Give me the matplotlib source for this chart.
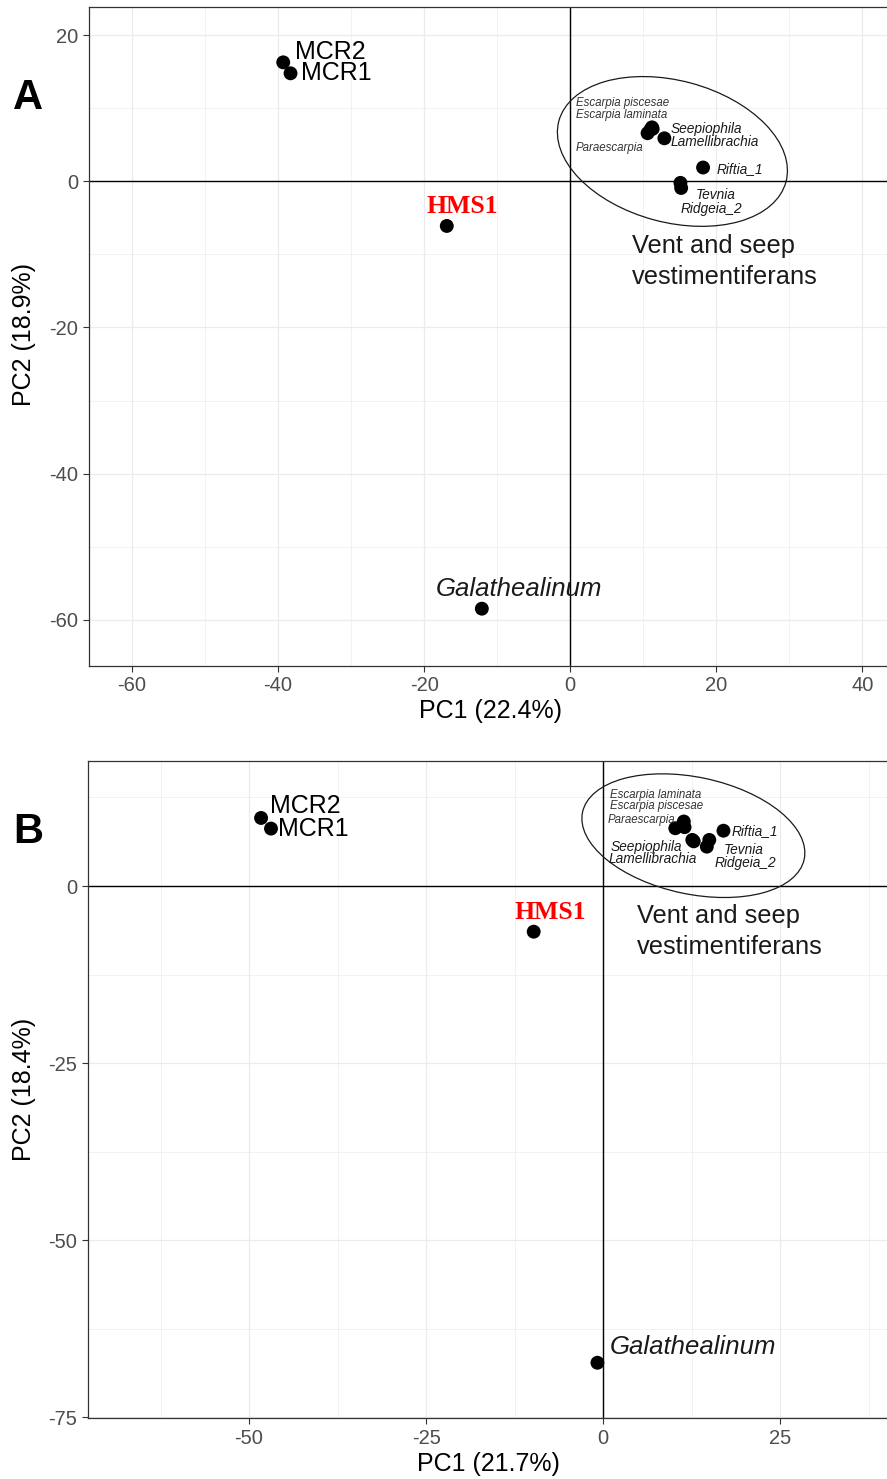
import numpy as np
import matplotlib.pyplot as plt
from matplotlib.patches import Ellipse

plt.rcParams['font.family'] = ['Liberation Sans', 'DejaVu Sans']
plt.rcParams['axes.unicode_minus'] = False

# ---- panel A scores (PC1 22.4%, PC2 18.9%)
a_names = ["MCR2", "MCR1", "HMS1", "Galathealinum",
           "Escarpia piscesae", "Escarpia laminata", "Paraescarpia", "Seepiophila",
           "Lamellibrachia", "Riftia_1", "Tevnia", "Ridgeia_2"]
a_pc1 = [-39.3, -38.3, -16.9, -12.1, 11.2, 11.0, 10.6, 11.3, 12.9, 18.2, 15.1, 15.2]
a_pc2 = [16.3, 14.8, -6.1, -58.5, 7.4, 7.1, 6.6, 7.2, 5.9, 1.9, -0.2, -0.9]
# label anchors (left / baseline)
a_lab_x = [-37.7, -36.8, -14.8, -18.4, 0.8, 0.8, 0.8, 13.8, 13.8, 20.0, 17.2, 15.1]
a_lab_y = [16.8, 13.9, -4.3, -56.7, 10.3, 8.7, 4.2, 6.7, 4.9, 1.15, -2.4, -4.3]

# ---- panel B scores (PC1 21.7%, PC2 18.4%)
b_names = ["MCR2", "MCR1", "HMS1", "Galathealinum",
           "Escarpia laminata", "Escarpia piscesae", "Paraescarpia", "Seepiophila",
           "Lamellibrachia", "Riftia_1", "Tevnia", "Ridgeia_2"]
b_pc1 = [-48.3, -46.9, -9.8, -0.8, 11.4, 11.5, 10.2, 12.6, 12.8, 17.0, 15.0, 14.65]
b_pc2 = [9.6, 8.1, -6.45, -67.3, 9.1, 8.3, 8.15, 6.5, 6.3, 7.8, 6.5, 5.55]
b_lab_x = [-47.1, -45.9, -7.5, 0.95, 1.0, 1.0, 0.66, 1.0, 0.75, 18.2, 17.0, 15.7]
b_lab_y = [10.3, 7.0, -4.6, -66.0, 12.5, 10.9, 8.9, 5.0, 3.2, 7.2, 4.5, 2.7]

small = {"Escarpia piscesae", "Escarpia laminata", "Paraescarpia"}
species = small | {"Seepiophila", "Lamellibrachia", "Riftia_1", "Tevnia", "Ridgeia_2", "Galathealinum"}

W, H = 887, 1479
fig = plt.figure(figsize=(W / 100 + 0.001, H / 100 + 0.001), dpi=100)


def make_panel(box, xlim, ylim, xmaj, xmin, ymaj, ymin):
    l, t, r, b = box
    ax = fig.add_axes([l / W, 1 - b / H, (r - l) / W, (b - t) / H])
    ax.set_xlim(xlim)
    ax.set_ylim(ylim)
    ax.set_xticks(xmaj)
    ax.set_xticklabels([f"{v:g}" for v in xmaj])
    ax.set_yticks(ymaj)
    ax.set_yticklabels([f"{v:g}" for v in ymaj])
    ax.set_xticks(xmin, minor=True)
    ax.set_yticks(ymin, minor=True)
    ax.grid(which="major", color="#ebebeb", lw=0.9)
    ax.grid(which="minor", color="#ebebeb", lw=0.45)
    ax.set_axisbelow(True)
    ax.tick_params(which="minor", length=0)
    ax.tick_params(which="major", length=4, width=0.8, color="#333333",
                   labelcolor="#4d4d4d", labelsize=14.5)
    ax.tick_params(axis="x", pad=3.3)
    ax.tick_params(axis="y", pad=4.0)
    ax.spines["right"].set_visible(False)
    for s in ax.spines.values():
        s.set_color("#333333")
        s.set_linewidth(0.9)
    ax.axhline(0, color="black", lw=1.0, zorder=1.5)
    ax.axvline(0, color="black", lw=1.0, zorder=1.5)
    return ax


def draw(ax, names, pc1, pc2, lx, ly):
    ax.scatter(pc1, pc2, s=100, color="black", edgecolors="none", zorder=3)
    for n, x, y in zip(names, lx, ly):
        if n == "HMS1":
            ax.text(x, y, n, ha="center", va="baseline", color="red", fontsize=18.5,
                    fontweight="bold", family=["Liberation Serif", "DejaVu Serif"])
        elif n in small:
            ax.text(x, y, n, ha="left", va="baseline", fontsize=8.3,
                    style="italic", color="#333333")
        elif n in species:
            fs = 18.5 if n == "Galathealinum" else 9.9
            ax.text(x, y, n, ha="left", va="baseline", fontsize=fs,
                    style="italic", color="#1a1a1a")
        else:
            ax.text(x, y, n, ha="left", va="baseline", fontsize=18, color="black")


# Panel A
axA = make_panel((89, 7.3, 895, 665.7), (-65.9, 44.5), (-66.3, 23.85),
                 [-60, -40, -20, 0, 20, 40], [-50, -30, -10, 10, 30],
                 [20, 0, -20, -40, -60], [10, -10, -30, -50])
draw(axA, a_names, a_pc1, a_pc2, a_lab_x, a_lab_y)
axA.add_patch(Ellipse((14.0, 4.1), 32.2, 19.4, angle=-15, fill=False,
                      lw=0.9, ec="#1a1a1a", zorder=2))
axA.text(8.45, -9.8, "Vent and seep", fontsize=18.3, va="baseline", color="#1a1a1a")
axA.text(8.45, -14.05, "vestimentiferans", fontsize=18.3, va="baseline", color="#1a1a1a")
fig.text(490.5 / W, 1 - 710.8 / H, "PC1 (22.4%)", ha="center", va="center", fontsize=18)
fig.text(24 / W, 1 - 334 / H, "PC2 (18.9%)", ha="center", va="center",
         rotation=90, fontsize=18)
fig.text(28 / W, 1 - 98 / H, "A", ha="center", va="center", fontsize=30, fontweight="bold")

# Panel B
axB = make_panel((88.3, 760.7, 895, 1418.3), (-72.7, 41.24), (-75.14, 17.69),
                 [-50, -25, 0, 25], [-62.5, -37.5, -12.5, 12.5, 37.5],
                 [0, -25, -50, -75], [12.5, -12.5, -37.5, -62.5])
draw(axB, b_names, b_pc1, b_pc2, b_lab_x, b_lab_y)
axB.add_patch(Ellipse((12.75, 7.1), 32.0, 16.5, angle=-12, fill=False,
                      lw=0.9, ec="#1a1a1a", zorder=2))
axB.text(4.8, -5.2, "Vent and seep", fontsize=18.3, va="baseline", color="#1a1a1a")
axB.text(4.8, -9.6, "vestimentiferans", fontsize=18.3, va="baseline", color="#1a1a1a")
fig.text(488 / W, 1 - 1464 / H, "PC1 (21.7%)", ha="center", va="center", fontsize=18)
fig.text(24 / W, 1 - 1089.5 / H, "PC2 (18.4%)", ha="center", va="center",
         rotation=90, fontsize=18)
fig.text(28.5 / W, 1 - 832 / H, "B", ha="center", va="center", fontsize=30, fontweight="bold")

fig.savefig("out.png", dpi=100)
